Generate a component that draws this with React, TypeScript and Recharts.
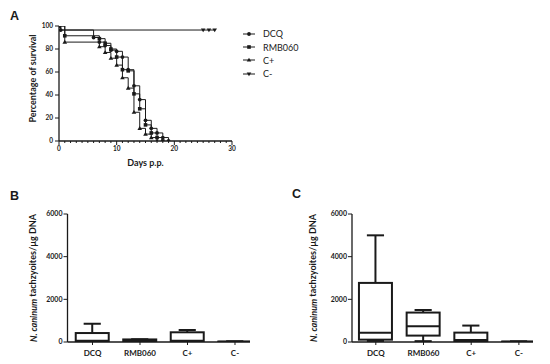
import React from 'react';
import { LineChart, Line, XAxis, YAxis, Legend, BarChart, Bar } from 'recharts';

const FONT = 'Lato, "Open Sans", "DejaVu Sans", sans-serif';
const INK = '#1a1a1a';

// ---------- Panel A: survival (Kaplan-Meier) ----------
const survivalGroups = ['DCQ', 'RMB060', 'C+', 'C-'];
const dcqDays = [0, 0.3, 6, 7, 8, 9, 10, 11, 12, 13, 14, 15, 16, 17, 18, 19];
const dcqSurvival = [100, 96.5, 90, 86, 83, 79, 78, 73, 62, 48, 36, 18, 11, 7, 3, 0];
const rmbDays = [0, 1, 7, 8, 9, 10, 11, 12, 13, 14, 15, 16, 17, 18];
const rmbSurvival = [100, 91.5, 89, 85, 80, 73, 62, 61, 41, 28, 14, 7, 3, 0];
const cPosDays = [0, 1, 7, 8, 9, 10, 11, 12, 13, 14, 15, 16, 17];
const cPosSurvival = [100, 86, 82, 77, 72, 66, 55, 46, 25, 11, 6, 3, 0];
const cNegDays = [0, 0.3, 25, 26, 27];
const cNegSurvival = [100, 96.5, 96.5, 96.5, 96.5];
const cNegMarked = [false, false, true, true, true];
const dayTicks = [0, 1, 2, 3, 4, 5, 6, 7, 8, 9, 10, 11, 12, 13, 14, 15, 16, 17, 18, 19, 20, 21, 22, 23, 24, 25, 26, 27, 28, 29, 30];
const survivalTicks = [0, 20, 40, 60, 80, 100];

// ---------- Panels B and C: parasite load box plots ----------
const boxCategories = ['DCQ', 'RMB060', 'C+', 'C-'];
const boxPositions = [1, 2, 3, 4];
const bMin = [0, 0, 0, 5];
const bQ1 = [20, 20, 30, 10];
const bMedian = [60, 60, 60, 15];
const bQ3 = [420, 120, 455, 20];
const bMax = [860, 130, 565, 30];
const cMin = [50, 40, 0, 5];
const cQ1 = [110, 300, 40, 10];
const cMedian = [430, 740, 90, 15];
const cQ3 = [2770, 1380, 440, 20];
const cMax = [5000, 1500, 770, 30];
const loadTicks = [0, 2000, 4000, 6000];

const toSeries = (xs: number[], ys: number[], marks?: boolean[]) =>
  xs.map((x, i) => ({ x, y: ys[i], mark: marks ? marks[i] : true }));

const dcqData = toSeries(dcqDays, dcqSurvival);
const rmbData = toSeries(rmbDays, rmbSurvival);
const cPosData = toSeries(cPosDays, cPosSurvival);
const cNegData = toSeries(cNegDays, cNegSurvival, cNegMarked);

const buildBox = (mn: number[], q1: number[], md: number[], q3: number[], mx: number[]) =>
  boxCategories.map((name, i) => ({
    x: boxPositions[i], name, min: mn[i], q1: q1[i], median: md[i], q3: q3[i], max: mx[i],
  }));
const panelBData = buildBox(bMin, bQ1, bMedian, bQ3, bMax);
const panelCData = buildBox(cMin, cQ1, cMedian, cQ3, cMax);

// ---------- marker shapes ----------
const marker = (kind: number, cx: number, cy: number, key?: string) => {
  if (kind === 0) return <circle key={key} cx={cx} cy={cy} r={1.9} fill={INK} />;
  if (kind === 1) return <rect key={key} x={cx - 1.8} y={cy - 1.8} width={3.6} height={3.6} fill={INK} />;
  if (kind === 2)
    return <path key={key} d={`M${cx},${cy - 2.3}L${cx + 2.3},${cy + 1.6}L${cx - 2.3},${cy + 1.6}Z`} fill={INK} />;
  return <path key={key} d={`M${cx},${cy + 2.3}L${cx + 2.3},${cy - 1.6}L${cx - 2.3},${cy - 1.6}Z`} fill={INK} />;
};

const makeDot = (kind: number) => (p: any) => {
  const key = `d${kind}-${p.index}`;
  if (!p.payload || !p.payload.mark || p.cx == null || p.cy == null) return <g key={key} />;
  return marker(kind, p.cx, p.cy, key);
};

const DayTick = (props: any) => {
  const { x, y, payload } = props;
  const major = payload.value % 10 === 0;
  return (
    <g>
      <line x1={x} x2={x} y1={y} y2={y + (major ? 4 : 2)} stroke={INK} strokeWidth={1} />
      {major && (
        <text x={x} y={y + 9.5} textAnchor="middle" fontSize={6.5} fontWeight={700} fontFamily={FONT} fill={INK}>
          {payload.value}
        </text>
      )}
    </g>
  );
};

const renderLegend = () => (
  <div style={{ fontFamily: FONT, fontSize: 9, color: INK }}>
    {survivalGroups.map((g, i) => (
      <div key={g} style={{ display: 'flex', alignItems: 'center', height: 13.4 }}>
        <svg width={14} height={8} style={{ display: 'block' }}>
          <line x1={0} x2={12} y1={4} y2={4} stroke={INK} strokeWidth={1} />
          {marker(i, 6, 4)}
        </svg>
        <span style={{ marginLeft: 6, lineHeight: '13px' }}>{g}</span>
      </div>
    ))}
  </div>
);

const survivalLabel = (props: any) => {
  const vb = props.viewBox || { x: 0, y: 0, width: 0, height: 0 };
  const cx = vb.x + vb.width / 2 + 3;
  const cy = vb.y + vb.height / 2 - 5;
  return (
    <text x={cx} y={cy} transform={`rotate(-90 ${cx} ${cy})`} textAnchor="middle" dominantBaseline="central"
      fontSize={9} fontWeight={700} fontFamily={FONT} fill={INK}>
      Percentage of survival
    </text>
  );
};

const loadLabel = (props: any) => {
  const vb = props.viewBox || { x: 0, y: 0, width: 0, height: 0 };
  const cx = vb.x + vb.width / 2 - 1;
  const cy = vb.y + vb.height / 2;
  return (
    <text x={cx} y={cy} transform={`rotate(-90 ${cx} ${cy})`} textAnchor="middle" dominantBaseline="central"
      fontSize={9} fontWeight={700} fontFamily={FONT} fill={INK}>
      <tspan fontStyle="italic">N. caninum</tspan> tachzyoites/µg DNA
    </text>
  );
};

const BoxShape = (props: any) => {
  const { x, y, width, height, payload } = props;
  if (x == null || y == null || !payload) return <g />;
  const top = Math.min(y, y + height);
  const h = Math.abs(height);
  const span = payload.max - payload.min;
  const py = (v: number) => (span > 0 ? top + ((payload.max - v) / span) * h : top);
  const cx = x + width / 2;
  const capHalf = width * 0.26;
  const sw = 2;
  return (
    <g>
      <line x1={cx} x2={cx} y1={py(payload.max)} y2={py(payload.q3)} stroke={INK} strokeWidth={sw} />
      <line x1={cx} x2={cx} y1={py(payload.q1)} y2={py(payload.min)} stroke={INK} strokeWidth={sw} />
      <line x1={cx - capHalf} x2={cx + capHalf} y1={py(payload.max)} y2={py(payload.max)} stroke={INK} strokeWidth={sw} />
      <line x1={cx - capHalf} x2={cx + capHalf} y1={py(payload.min)} y2={py(payload.min)} stroke={INK} strokeWidth={sw} />
      <rect x={x} y={py(payload.q3)} width={width} height={Math.max(0.5, py(payload.q1) - py(payload.q3))}
        fill="#ffffff" stroke={INK} strokeWidth={sw} />
      <line x1={x} x2={x + width} y1={py(payload.median)} y2={py(payload.median)} stroke={INK} strokeWidth={sw} />
    </g>
  );
};

const tickStyle = { fontSize: 7, fontWeight: 700, fontFamily: FONT, fill: INK };
const catTickStyle = { fontSize: 8, fontWeight: 700, fontFamily: FONT, fill: INK };
const axisLine = { stroke: INK, strokeWidth: 1.3 };

const BoxPanel = ({ data, yAxisWidth, right, domain }: any) => (
  <BarChart width={275} height={184} data={data} margin={{ top: 34, right, bottom: 2, left: 0 }}>
    <XAxis dataKey="x" type="number" domain={domain} allowDataOverflow ticks={boxPositions}
      tickFormatter={(v: number) => boxCategories[v - 1]} interval={0} height={20}
      tick={catTickStyle} tickSize={3} tickMargin={5} axisLine={axisLine} tickLine={{ stroke: INK, strokeWidth: 1 }} />
    <YAxis type="number" domain={[0, 6000]} ticks={loadTicks} width={yAxisWidth} allowDataOverflow
      tick={tickStyle} tickSize={4} tickMargin={1} axisLine={axisLine} tickLine={{ stroke: INK, strokeWidth: 1 }}
      label={{ position: 'center', content: loadLabel }} />
    <Bar dataKey={(d: any) => [d.min, d.max]} barSize={33} shape={BoxShape} isAnimationActive={false} />
  </BarChart>
);

export default function App() {
  return (
    <div style={{ position: 'absolute', left: 0, top: 0, width: 550, height: 364, background: '#ffffff', overflow: 'hidden' }}>
      <svg width={550} height={364} style={{ position: 'absolute', left: 0, top: 0, pointerEvents: 'none' }}>
        <text x={10} y={20} fontSize={12.5} fontWeight={700} fontFamily='"Liberation Sans", Arial, sans-serif' fill={INK}>A</text>
        <text x={10} y={200} fontSize={12.5} fontWeight={700} fontFamily='"Liberation Sans", Arial, sans-serif' fill={INK}>B</text>
        <text x={292} y={198} fontSize={12.5} fontWeight={700} fontFamily='"Liberation Sans", Arial, sans-serif' fill={INK}>C</text>
      </svg>

      <div style={{ position: 'absolute', left: 0, top: 0 }}>
        <LineChart width={275} height={175} margin={{ top: 26, right: 43, bottom: 4, left: 0 }}>
          <XAxis dataKey="x" type="number" domain={[0, 30]} ticks={dayTicks} interval={0} height={30}
            tick={<DayTick />} tickLine={false} tickSize={0} tickMargin={0} axisLine={axisLine} allowDataOverflow
            label={{ value: 'Days p.p.', position: 'insideBottom', offset: 5, fontSize: 9, fontWeight: 700, fontFamily: FONT, fill: INK }} />
          <YAxis type="number" domain={[0, 100]} ticks={survivalTicks} width={59} allowDataOverflow
            tick={{ ...tickStyle, fontSize: 6.5 }} tickSize={4} tickMargin={2} axisLine={axisLine}
            tickLine={{ stroke: INK, strokeWidth: 1 }} label={{ position: 'center', content: survivalLabel }} />
          <Legend layout="vertical" align="center" verticalAlign="middle" content={renderLegend}
            wrapperStyle={{ left: 243, top: 27, width: 70 }} />
          <Line data={dcqData} dataKey="y" name="DCQ" type="stepAfter" stroke={INK} strokeWidth={1} dot={makeDot(0)} isAnimationActive={false} />
          <Line data={rmbData} dataKey="y" name="RMB060" type="stepAfter" stroke={INK} strokeWidth={1} dot={makeDot(1)} isAnimationActive={false} />
          <Line data={cPosData} dataKey="y" name="C+" type="stepAfter" stroke={INK} strokeWidth={1} dot={makeDot(2)} isAnimationActive={false} />
          <Line data={cNegData} dataKey="y" name="C-" type="stepAfter" stroke={INK} strokeWidth={1} dot={makeDot(3)} isAnimationActive={false} />
        </LineChart>
      </div>

      <div style={{ position: 'absolute', left: 0, top: 180 }}>
        <BoxPanel data={panelBData} yAxisWidth={67.5} right={25} domain={[0.474, 4.316]} />
      </div>
      <div style={{ position: 'absolute', left: 275, top: 180 }}>
        <BoxPanel data={panelCData} yAxisWidth={77} right={17} domain={[0.501, 4.296]} />
      </div>
    </div>
  );
}
